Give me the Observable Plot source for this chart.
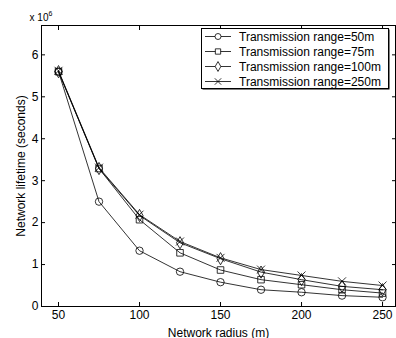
<!DOCTYPE html>
<html><head><meta charset="utf-8">
<script src="https://cdn.jsdelivr.net/npm/d3@7"></script>
<script src="https://cdn.jsdelivr.net/npm/@observablehq/plot@0.6"></script>
<style>
body{margin:0;background:#fff;}
#chart{position:relative;width:396px;height:338px;font-family:"Liberation Sans",Arial,sans-serif;}
#legend{position:absolute;left:201px;top:28px;}
</style>
</head><body><div id="chart"></div>
<script>
const radius = [50, 75, 100, 125, 150, 175, 200, 225, 250];
const seriesNames = ["Transmission range=50m", "Transmission range=75m", "Transmission range=100m", "Transmission range=250m"];
// lifetimes in units of 10^6 seconds
const range50 = [5.6, 2.5, 1.33, 0.83, 0.58, 0.40, 0.34, 0.26, 0.22];
const range75 = [5.6, 3.29, 2.07, 1.28, 0.87, 0.64, 0.52, 0.40, 0.32];
const range100 = [5.6, 3.29, 2.17, 1.52, 1.14, 0.82, 0.64, 0.48, 0.40];
const range250 = [5.62, 3.31, 2.19, 1.55, 1.16, 0.88, 0.74, 0.60, 0.50];
const symbolNames = ["circle", "square", "diamond", "times"];
const xTicks = [50, 100, 150, 200, 250];
const yTicks = [0, 1, 2, 3, 4, 5, 6];

const allSeries = [range50, range75, range100, range250];
const data = [];
allSeries.forEach((vals, i) => vals.forEach((v, j) => data.push({series: seriesNames[i], radius: radius[j], life: v})));

const font = '"Liberation Sans",Arial,sans-serif';
const chart = Plot.plot({
  width: 396, height: 338,
  marginLeft: 41, marginRight: 1, marginTop: 25, marginBottom: 32,
  style: {fontFamily: font, fontSize: "12px", color: "black", background: "white", overflow: "visible"},
  x: {domain: [39.5, 258]},
  y: {domain: [0, 6.7]},
  symbol: {domain: seriesNames, range: symbolNames},
  marks: [
    Plot.frame({stroke: "black", strokeWidth: 1}),
    Plot.axisX({ticks: xTicks, tickSize: -4, tickPadding: 8, tickFormat: d => String(d), label: "Network radius (m)", labelAnchor: "center", labelArrow: "none", labelOffset: 30}),
    Plot.axisX({anchor: "top", ticks: xTicks, tickSize: -4, tickFormat: () => "", label: null}),
    Plot.axisY({ticks: yTicks, tickSize: -4, tickPadding: 7, tickFormat: d => String(d), label: "Network lifetime (seconds)", labelAnchor: "center", labelArrow: "none", labelOffset: 25}),
    Plot.axisY({anchor: "right", ticks: yTicks, tickSize: -4, tickFormat: () => "", label: null}),
    Plot.line(data, {x: "radius", y: "life", z: "series", stroke: "black", strokeWidth: 0.8}),
    Plot.dot(data, {x: "radius", y: "life", symbol: "series", stroke: "black", fill: "none", r: 3.7, strokeWidth: 0.8})
  ]
});
document.getElementById("chart").appendChild(chart);

// x 10^6 multiplier
const svg = d3.select(chart);
const mult = svg.append("text").attr("x", 41).attr("y", 21).attr("font-size", 10).attr("font-family", font).attr("fill", "black");
mult.append("tspan").text("x 10");
mult.append("tspan").attr("dy", -5).attr("font-size", 7).text("6");

// legend
const lg = d3.select("#chart").append("svg").attr("id", "legend").attr("width", 192).attr("height", 64);
lg.append("rect").attr("x", 1.5).attr("y", 1.5).attr("width", 187).attr("height", 60).attr("fill", "black");
lg.append("rect").attr("x", 0.5).attr("y", 0.5).attr("width", 187).attr("height", 60).attr("fill", "white").attr("stroke", "black");
const symTypes = {circle: d3.symbolCircle, square: d3.symbolSquare, diamond: d3.symbolDiamond, times: d3.symbolTimes};
seriesNames.forEach((name, i) => {
  const y = 8.5 + i * 15;
  const g = lg.append("g").attr("transform", `translate(0,${y})`);
  g.append("line").attr("x1", 4).attr("x2", 30).attr("y1", 0).attr("y2", 0).attr("stroke", "black").attr("stroke-width", 0.8);
  g.append("path").attr("transform", "translate(17,0)").attr("d", d3.symbol(symTypes[symbolNames[i]], 3 * 3 * Math.PI)()).attr("fill", "white").attr("stroke", "black").attr("stroke-width", 0.8);
  g.append("text").attr("x", 38).attr("y", 0).attr("dy", "0.35em").attr("font-size", 12).attr("font-family", font).text(name);
});
</script>
</body></html>
